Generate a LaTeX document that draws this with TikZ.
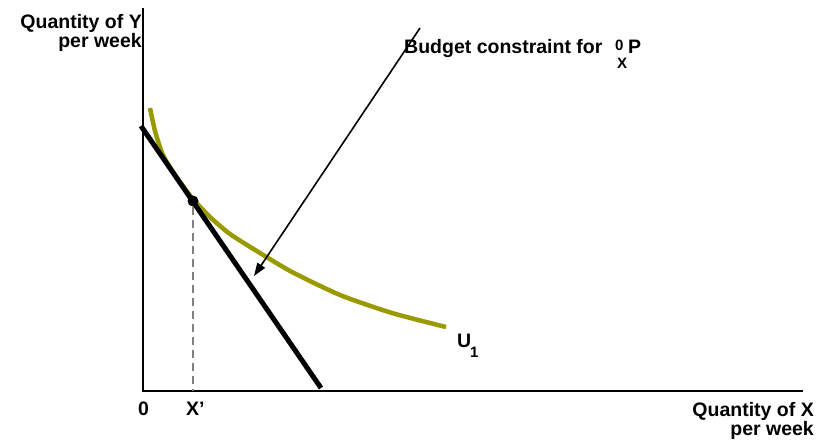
\documentclass[tikz,border=0pt]{standalone}
\usepackage{fontspec}
\setmainfont{Liberation Sans}
\usetikzlibrary{arrows.meta}
\definecolor{olivec}{RGB}{153,153,0}
\definecolor{dashgray}{RGB}{128,128,128}
\tikzset{
  lbl/.style={font=\bfseries\fontsize{19.5}{18}\selectfont, inner sep=0pt},
  smalllbl/.style={font=\bfseries\fontsize{15}{15}\selectfont, inner sep=0pt},
  axisline/.style={line width=2.6pt, black},
  budget/.style={line width=5pt, black},
  indiff/.style={line width=4.5pt, olivec},
}
\begin{document}
\begin{tikzpicture}[x=1pt,y=-1pt]
\useasboundingbox (0,0) rectangle (819,445);
% axes
\coordinate (ytop) at (143,8);
\coordinate (orig) at (143,391);
\coordinate (xend) at (803,391);
\draw[axisline] (ytop) -- (orig) -- (xend);
% indifference curve
\draw[indiff] plot[smooth, tension=0.4] coordinates {(150,108) (155,131) (163,155) (177,178) (193,199) (210,217) (230,234) (260,253) (292,272) (340,295) (392,313) (446,327)};
% budget line
\coordinate (bA) at (141,126);
\coordinate (bB) at (321,388);
\draw[budget] (bA) -- (bB);
% tangency point
\node[circle, fill=black, inner sep=0pt, minimum size=11pt] (pt) at (193,201) {};
\coordinate (xp) at (193,391);
\draw[dashgray, line width=1.8pt, dash pattern=on 8pt off 5pt] (pt) -- (xp);
% arrow
\coordinate (aS) at (420,28);
\coordinate (aE) at (254,276);
\draw[line width=1.6pt, -{Triangle[length=13pt,width=9pt]}] (aS) -- (aE);
% labels
\node[lbl, anchor=base east] (ylab) at (142,28) {Quantity of Y};
\node[lbl, anchor=base east] (ylab2) at (142,47.5) {per week};
\node[lbl, anchor=base west] (bc) at (404,53) {Budget constraint for};
\node[smalllbl, anchor=base west] (zero) at (615,50) {0};
\node[lbl, anchor=base west] (P) at (628,53) {P};
\node[smalllbl, anchor=base west] (Xs) at (617,68) {X};
\node[lbl, anchor=base west] (U) at (457,347) {U};
\node[smalllbl, anchor=base west] (U1) at (470,357) {1};
\node[lbl, anchor=base west] (zerolab) at (138,415) {0};
\node[lbl, anchor=base west] (xplab) at (186,415) {X’};
\node[lbl, anchor=base east] (xlab) at (814,416) {Quantity of X};
\node[lbl, anchor=base east] (xlab2) at (814,435.5) {per week};
\end{tikzpicture}
\end{document}
